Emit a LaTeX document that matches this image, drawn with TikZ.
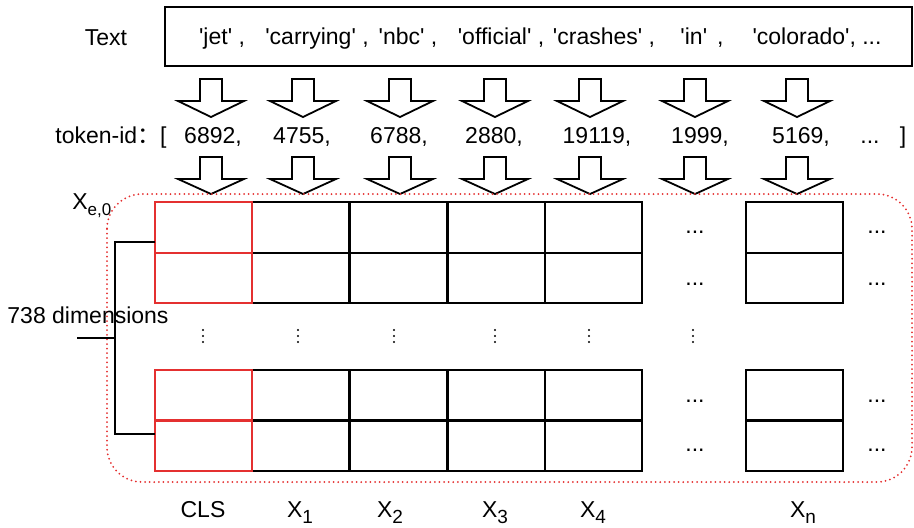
\documentclass[tikz,border=0pt]{standalone}
\usepackage{fontspec}
\setmainfont{Liberation Sans}[Ligatures=TeXOff]
\newfontfamily\cjk{Noto Sans CJK SC}
\definecolor{clsred}{RGB}{228,48,48}
\newcommand{\subx}[1]{\raisebox{-3.3pt}{\fontsize{9.5}{10}\selectfont #1}}

\begin{document}
\begin{tikzpicture}[x=0.5pt, y=-0.5pt,
  lbl/.style={font=\fontsize{11.5}{13}\selectfont, anchor=base, inner sep=0pt},
  blk/.style={draw, line width=1pt, minimum width=48.5pt, minimum height=25.25pt, inner sep=0pt},
  cls/.style={blk, draw=clsred},
  tokarrow/.style={draw, line width=0.9pt, fill=white, line join=miter},
  dotbox/.style={draw=clsred, line width=1pt, dash pattern=on 0pt off 2.3pt, line cap=round, rounded corners=17.5pt}
]
\useasboundingbox (0,0) rectangle (914,527);

% input text
\node[lbl] (txtlab) at (106,45) {Text};
\node[draw, line width=1pt, minimum width=373.5pt, minimum height=29.5pt, inner sep=0pt] (txtbox) at (538.5,36.5) {};
\foreach \x/\w [count=\i] in {222/{'jet' ,}, 317/{'carrying' ,}, 408/{'nbc' ,}, 501/{'official' ,},
  604/{'crashes' ,}, 702/{'in'\hspace{5pt},}, 817/{'colorado', ...}} {
  \node[lbl] (w\i) at (\x,44) {\w};
}

% token ids
\node[lbl, anchor=base west] (tokid) at (55,143) {token-id{\cjk ：}[};
\foreach \x/\n [count=\i] in {213/{6892,}, 302/{4755,}, 399/{6788,}, 494/{2880,}, 597/{19119,}, 700/{1999,}, 801/{5169,}} {
  \node[lbl] (id\i) at (\x,143) {\n};
}
\node[lbl] (idmore) at (870,143) {...};
\node[lbl] (idend) at (903,143) {]};

% block arrows
\foreach \x in {211,303,400,495,590,695,797} {
  \draw[tokarrow] (\x-11,79) -- (\x+11,79) -- (\x+11,101) -- (\x+33,101) -- (\x,117)
    -- (\x-33,101) -- (\x-11,101) -- cycle;
  \draw[tokarrow] (\x-11,157) -- (\x+11,157) -- (\x+11,179) -- (\x+33,179) -- (\x,194)
    -- (\x-33,179) -- (\x-11,179) -- cycle;
}

% embedding matrix
\draw[dotbox] (107,194) rectangle (912,482);
\node[lbl, anchor=base west] (xe) at (72,209) {X\raisebox{-3pt}{\fontsize{8.5}{9}\selectfont e,0}};
\foreach \x [count=\c] in {300.5,398.5,496,593.5} {
  \foreach \y/\r in {227.5/1,278/2,395/3,446/4} {
    \node[blk] (c\c-\r) at (\x,\y) {};
  }
}
\foreach \y/\r in {227.5/1,278/2,395/3,446/4} {
  \node[cls] (cls-\r) at (203,\y) {};
  \node[blk] (xn-\r) at (794.5,\y) {};
}

% elided rows and columns
\foreach \x in {203,298,394,495,589,693} {
  \foreach \y in {330,336,342} {
    \fill (\x,\y) circle (0.6pt);
  }
}
\foreach \y [count=\i] in {233,285,402,451} {
  \node[lbl] (gap\i) at (695,\y) {...};
  \node[lbl] (end\i) at (877,\y) {...};
}

% dimension bracket
\node[lbl] (dimlab) at (88,323) {738 dimensions};
\coordinate (brtop) at (155,242);
\coordinate (brbot) at (155,434);
\coordinate (brmid) at (115,338);
\coordinate (dimtick) at (77,338);
\draw[line width=0.8pt] (brtop) -| (brmid) |- (brbot);
\draw[line width=0.8pt] (dimtick) -- (brmid);

% column labels
\node[lbl] (lcls) at (203,517) {CLS};
\node[lbl] (lx1) at (300,517) {X\subx{1}};
\node[lbl] (lx2) at (390,517) {X\subx{2}};
\node[lbl] (lx3) at (495,517) {X\subx{3}};
\node[lbl] (lx4) at (593,517) {X\subx{4}};
\node[lbl] (lxn) at (803,517) {X\subx{n}};
\end{tikzpicture}
\end{document}
